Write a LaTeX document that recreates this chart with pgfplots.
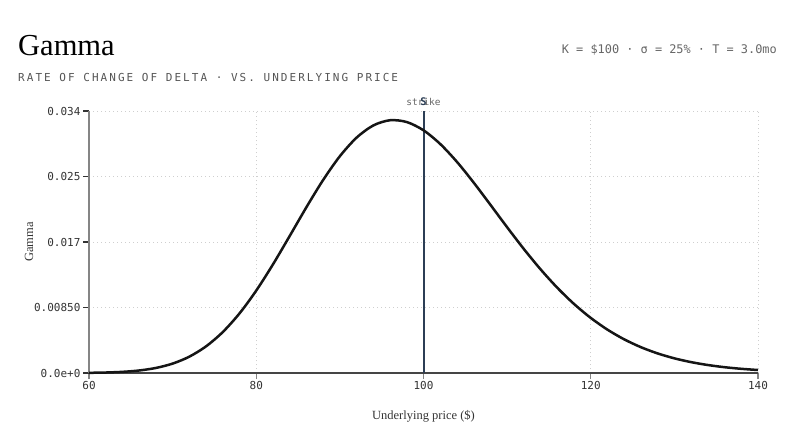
\documentclass[border=0pt]{standalone}
\usepackage{fontspec}
\usepackage{pgfplots}
\pgfplotsset{compat=1.18}
\setmainfont{Liberation Serif}
\newfontfamily\monof{DejaVu Sans Mono}
\newfontfamily\monosp[LetterSpace=18.5]{DejaVu Sans Mono}

\definecolor{curve}{HTML}{151515}
\definecolor{strikec}{HTML}{2C3E55}
\definecolor{gridc}{HTML}{CFCFCF}
\definecolor{yaxisc}{HTML}{858585}
\definecolor{xaxisc}{HTML}{454545}
\definecolor{tickc}{HTML}{333333}
\definecolor{subc}{HTML}{555555}
\definecolor{metac}{HTML}{666666}

\begin{document}
\begin{tikzpicture}
\path[use as bounding box] (0,0) rectangle (794pt,445pt);

% header
\node[anchor=base west, inner sep=0pt, font=\fontsize{30.5}{34}\selectfont, text=black]
  at (18pt,389pt) {Gamma};
\node[anchor=base west, inner sep=0pt, font=\monosp\fontsize{11}{12}\selectfont, text=subc]
  at (18pt,363pt) {RATE OF CHANGE OF DELTA · VS. UNDERLYING PRICE};
\node[anchor=base east, inner sep=0pt, font=\monof\fontsize{11.9}{14}\selectfont, text=metac]
  at (777pt,391pt) {K = \$100 · σ = 25\% · T = 3.0mo};

\begin{axis}[
    at={(89pt,72pt)}, anchor=south west,
    scale only axis,
    width=669pt, height=262pt,
    xmin=60, xmax=140, ymin=0, ymax=0.034,
    clip=false,
    axis x line*=bottom, axis y line*=left,
    axis line style={draw=none},
    xtick={60,80,100,120,140},
    xticklabels={60,80,100,120,140},
    ytick={0,0.0085,0.017,0.0255,0.034},
    yticklabels={0.0e+0,0.00850,0.017,0.025,0.034},
    scaled y ticks=false,
    tick align=outside,
    major tick length=6pt,
    x tick style={draw=yaxisc, line width=1.4pt},
    y tick style={draw=tickc, line width=1.4pt},
    ticklabel style={font=\monof\fontsize{11}{12}\selectfont, text=tickc},
    yticklabel style={xshift=1pt},
    xticklabel style={yshift=1pt},
    xmajorgrids, ymajorgrids,
    major grid style={draw=gridc, line width=1pt, dash pattern=on 1pt off 3pt},
    xlabel={Underlying price (\$)},
    ylabel={Gamma},
    label style={font=\fontsize{12.5}{14}\selectfont, text=tickc},
    xlabel style={at={(axis description cs:0.5,0)}, anchor=base, yshift=-46pt},
    ylabel style={at={(axis description cs:0,0.5)}, anchor=center, yshift=60pt},
  ]

  % axis lines
  \draw[draw=yaxisc, line width=2pt] (axis cs:60,0) -- (axis cs:60,0.034);
  \draw[draw=xaxisc, line width=2pt] (axis cs:60,0) -- (axis cs:140,0);

  % strike marker
  \addplot[draw=strikec, line width=2pt] coordinates {(100,0) (100,0.034)};
  \node[anchor=base, inner sep=0pt, yshift=6pt, font=\monof\fontsize{9.5}{11}\selectfont, text=metac]
    at (axis cs:100,0.034) {strike};
  \node[anchor=base, inner sep=0pt, yshift=6pt, font=\monof\bfseries\fontsize{10.5}{12}\selectfont, text=strikec]
    at (axis cs:100,0.034) {S};

  % gamma curve
  \addplot[draw=curve, line width=2.5pt, smooth] coordinates {
    (60,0.0000241) (62,0.0000631) (64,0.0001500) (66,0.0003265) (68,0.0006553)
    (70,0.0012205) (72,0.0021216) (74,0.0034597) (76,0.0053175) (78,0.0077360)
    (80,0.010695) (82,0.014098) (84,0.017781) (86,0.021517) (88,0.025053)
    (90,0.028134) (92,0.030544) (94,0.032127) (96,0.032801) (98,0.032567)
    (100,0.031497) (102,0.029719) (104,0.027398) (106,0.024710) (108,0.021831)
    (110,0.018916) (112,0.016091) (114,0.013453) (116,0.011063) (118,0.0089582)
    (120,0.0071486) (122,0.0056247) (124,0.0043678) (126,0.0033506) (128,0.0025396)
    (130,0.0019034) (132,0.0014118) (134,0.0010365) (136,0.0007535) (138,0.000543)
    (140,0.000388)
  };
\end{axis}
\end{tikzpicture}
\end{document}
